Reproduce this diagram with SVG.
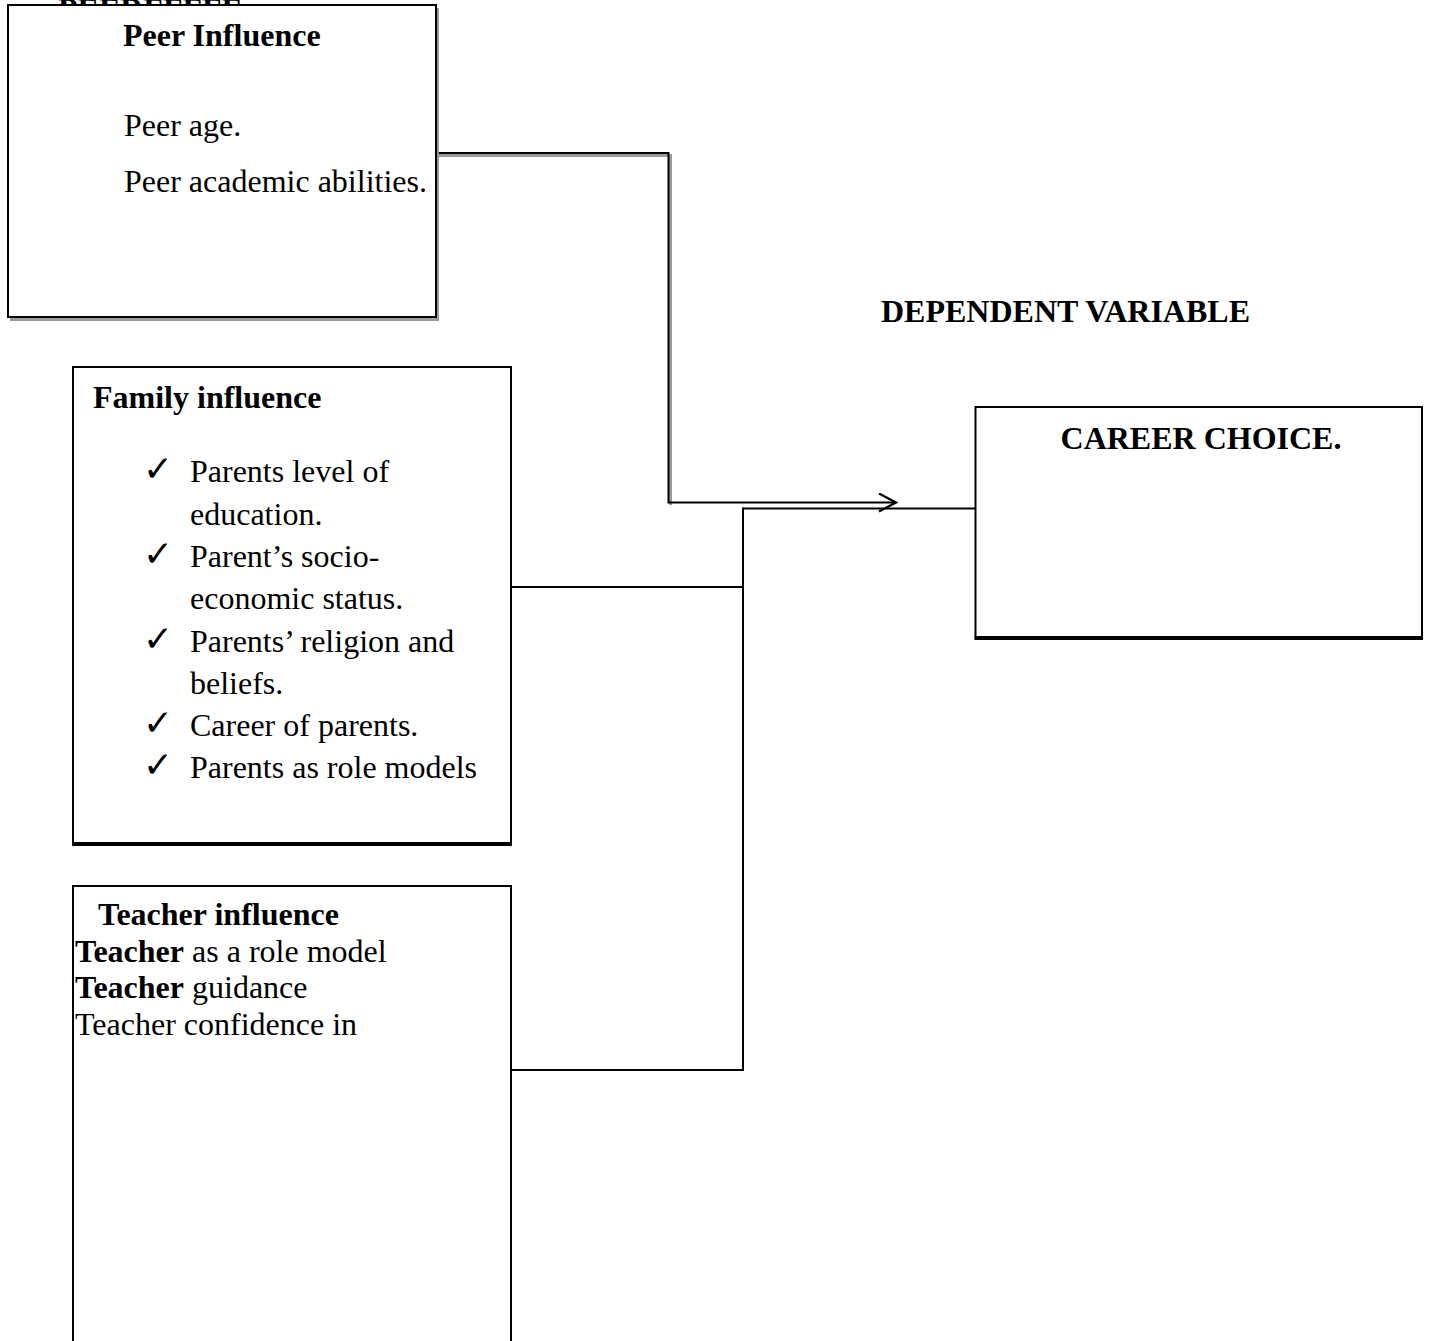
<svg xmlns="http://www.w3.org/2000/svg" width="1431" height="1341" viewBox="0 0 1431 1341">
<style>
  .t { font-family: "Liberation Serif", "Times New Roman", serif; font-size: 32px; fill: #000; }
  .b { font-weight: bold; }
  .ck { font-family: "DejaVu Sans", sans-serif; font-size: 36px; fill: #000; }
  .box { fill: #fff; stroke: #000; stroke-width: 2; }
  .shadow { fill: none; stroke: #9a9a9a; stroke-width: 3; }
  .conn { fill: none; stroke: #000; stroke-width: 2; }
</style>
<defs>
  <marker id="open" markerWidth="20" markerHeight="24" refX="18" refY="10" orient="auto" markerUnits="userSpaceOnUse">
    <path d="M1,1 L18,10 L1,19" fill="none" stroke="#000" stroke-width="2.2"/>
  </marker>
</defs>
<rect width="1431" height="1341" fill="#fff"/>

<text class="t b" x="58" y="20">PEERFFFFF</text>

<g id="connectors">
  <polyline class="shadow" points="437,155.5 670.5,155.5 670.5,505"/>
  <polyline class="conn" points="436,153 668.5,153 668.5,502.5 896,502.5" marker-end="url(#open)"/>
  <polyline class="conn" points="743,508.5 975,508.5"/>
  <polyline class="conn" points="743,507.5 743,1071"/>
  <line class="conn" x1="511" y1="587" x2="743" y2="587"/>
  <line class="conn" x1="511" y1="1070" x2="743" y2="1070"/>
</g>

<g id="peer">
  <polyline class="shadow" points="10,319.5 437.5,319.5 437.5,8"/>
  <rect class="box" x="8" y="5" width="428" height="312"/>
  <text class="t b" x="123" y="46">Peer Influence</text>
  <text class="t" x="124" y="136">Peer age.</text>
  <text class="t" x="124" y="192">Peer academic abilities.</text>
</g>

<g id="family">
  <rect class="box" x="73" y="367" width="438" height="476"/>
  <line x1="72" y1="844" x2="512" y2="844" stroke="#000" stroke-width="4"/>
  <text class="t b" x="93" y="408">Family influence</text>
  <text class="ck" x="143" y="481">✓</text>
  <text class="t" x="190" y="482">Parents level of</text>
  <text class="t" x="190" y="525">education.</text>
  <text class="ck" x="143" y="566">✓</text>
  <text class="t" x="190" y="567">Parent’s socio-</text>
  <text class="t" x="190" y="609">economic status.</text>
  <text class="ck" x="143" y="651">✓</text>
  <text class="t" x="190" y="652">Parents’ religion and</text>
  <text class="t" x="190" y="694">beliefs.</text>
  <text class="ck" x="143" y="735">✓</text>
  <text class="t" x="190" y="736">Career of parents.</text>
  <text class="ck" x="143" y="777">✓</text>
  <text class="t" x="190" y="778">Parents as role models</text>
</g>

<g id="teacher">
  <rect class="box" x="73" y="886" width="438" height="470"/>
  <text class="t b" x="98" y="925">Teacher influence</text>
  <text class="t" x="75" y="962"><tspan class="b">Teacher</tspan> as a role model</text>
  <text class="t" x="75" y="998"><tspan class="b">Teacher</tspan> guidance</text>
  <text class="t" x="75" y="1035">Teacher confidence in</text>
</g>

<g id="dependent-label">
  <text class="t b" x="881" y="322">DEPENDENT VARIABLE</text>
</g>

<g id="career">
  <rect class="box" x="975.5" y="407" width="446.5" height="230"/>
  <line x1="974.5" y1="638" x2="1423" y2="638" stroke="#000" stroke-width="4"/>
  <text class="t b" x="1201" y="449" text-anchor="middle">CAREER CHOICE.</text>
</g>
</svg>
